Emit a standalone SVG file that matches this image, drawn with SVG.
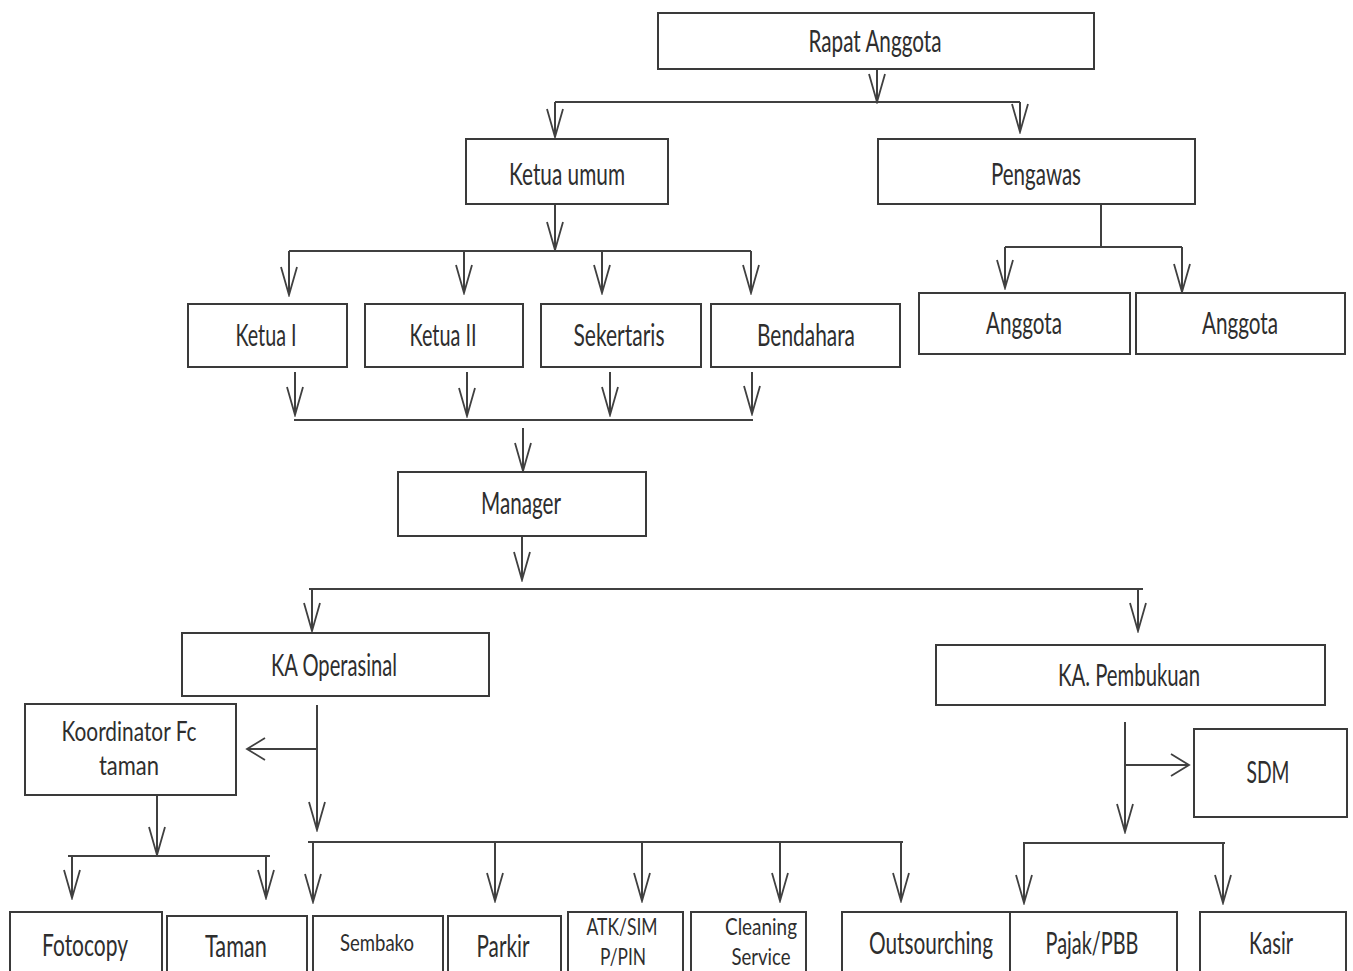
<svg xmlns="http://www.w3.org/2000/svg" width="1353" height="971" viewBox="0 0 1353 971">
<style>
.box{fill:#fff;stroke:#3a3a3a;stroke-width:2}
.t{font-family:Lato,"Open Sans","Liberation Sans",sans-serif;font-size:30px;fill:#2e2e2e;text-anchor:middle}
.s{font-size:23px}
.k{font-size:27px}
.c{fill:none;stroke:#404040;stroke-width:2}
.a{fill:none;stroke:#404040;stroke-width:2;marker-end:url(#arr)}
.h{fill:none;stroke:#404040;stroke-width:2;marker-end:url(#arrh)}
</style>
<defs>
<marker id="arr" markerUnits="userSpaceOnUse" viewBox="0 0 32 20" markerWidth="32" markerHeight="20" refX="30" refY="10" orient="auto">
<path d="M2,2 L30,10 L2,18" fill="none" stroke="#404040" stroke-width="1.8"/>
</marker>
<marker id="arrh" markerUnits="userSpaceOnUse" viewBox="0 0 24 26" markerWidth="24" markerHeight="26" refX="22" refY="13" orient="auto">
<path d="M4,2 L22,13 L4,24" fill="none" stroke="#404040" stroke-width="1.8"/>
</marker>
</defs>
<rect width="1353" height="971" fill="#fff"/>
<g id="connectors">
<path class="a" d="M877,69 V102"/>
<path class="c" d="M555,102 H1020"/>
<path class="a" d="M555,102 V137"/>
<path class="a" d="M1020,102 V132"/>
<path class="a" d="M555,204 V250"/>
<path class="c" d="M289,251 H751"/>
<path class="a" d="M289,251 V295"/>
<path class="a" d="M464,251 V293"/>
<path class="a" d="M602,251 V293"/>
<path class="a" d="M751,251 V293"/>
<path class="c" d="M1101,205 V248"/>
<path class="c" d="M1005,247 H1182"/>
<path class="a" d="M1005,247 V288"/>
<path class="a" d="M1182,247 V292"/>
<path class="a" d="M295,372 V415"/>
<path class="a" d="M467,372 V416"/>
<path class="a" d="M610,372 V415"/>
<path class="a" d="M752,372 V414"/>
<path class="c" d="M294,420 H753"/>
<path class="a" d="M523,428 V471"/>
<path class="a" d="M522,536 V580"/>
<path class="c" d="M309,589 H1143"/>
<path class="a" d="M312,589 V631"/>
<path class="a" d="M1138,589 V631"/>
<path class="a" d="M317,705 V830"/>
<path class="h" d="M317,749 H247"/>
<path class="a" d="M157,795 V855"/>
<path class="c" d="M68,856 H270"/>
<path class="a" d="M72,856 V898"/>
<path class="a" d="M266,856 V898"/>
<path class="c" d="M308,842 H903"/>
<path class="a" d="M313,842 V902"/>
<path class="a" d="M495,842 V901"/>
<path class="a" d="M642,842 V901"/>
<path class="a" d="M780,842 V901"/>
<path class="a" d="M901,842 V901"/>
<path class="a" d="M1125,722 V832"/>
<path class="h" d="M1125,765 H1189"/>
<path class="c" d="M1023,843 H1225"/>
<path class="a" d="M1024,843 V903"/>
<path class="a" d="M1223,843 V903"/>
</g>
<g id="rapat-anggota"><rect class="box" x="658" y="13" width="436" height="56"/><text class="t" x="875" y="52" font-size="28" textLength="133" lengthAdjust="spacingAndGlyphs">Rapat Anggota</text></g>
<g id="ketua-umum"><rect class="box" x="466" y="139" width="202" height="65"/><text class="t" x="567" y="185" textLength="116" lengthAdjust="spacingAndGlyphs">Ketua umum</text></g>
<g id="pengawas"><rect class="box" x="878" y="139" width="317" height="65"/><text class="t" x="1036" y="185" textLength="90" lengthAdjust="spacingAndGlyphs">Pengawas</text></g>
<g id="ketua-1"><rect class="box" x="188" y="304" width="159" height="63"/><text class="t" x="266" y="346" textLength="61" lengthAdjust="spacingAndGlyphs">Ketua I</text></g>
<g id="ketua-2"><rect class="box" x="365" y="304" width="158" height="63"/><text class="t" x="443" y="346" textLength="67" lengthAdjust="spacingAndGlyphs">Ketua II</text></g>
<g id="sekertaris"><rect class="box" x="541" y="304" width="160" height="63"/><text class="t" x="619" y="346" textLength="91" lengthAdjust="spacingAndGlyphs">Sekertaris</text></g>
<g id="bendahara"><rect class="box" x="711" y="304" width="189" height="63"/><text class="t" x="806" y="346" textLength="98" lengthAdjust="spacingAndGlyphs">Bendahara</text></g>
<g id="anggota-1"><rect class="box" x="919" y="293" width="211" height="61"/><text class="t" x="1024" y="334" textLength="76" lengthAdjust="spacingAndGlyphs">Anggota</text></g>
<g id="anggota-2"><rect class="box" x="1136" y="293" width="209" height="61"/><text class="t" x="1240" y="334" textLength="76" lengthAdjust="spacingAndGlyphs">Anggota</text></g>
<g id="manager"><rect class="box" x="398" y="472" width="248" height="64"/><text class="t" x="521" y="514" textLength="80" lengthAdjust="spacingAndGlyphs">Manager</text></g>
<g id="ka-operasinal"><rect class="box" x="182" y="633" width="307" height="63"/><text class="t" x="334" y="676" textLength="126" lengthAdjust="spacingAndGlyphs">KA Operasinal</text></g>
<g id="ka-pembukuan"><rect class="box" x="936" y="645" width="389" height="60"/><text class="t" x="1129" y="686" textLength="142" lengthAdjust="spacingAndGlyphs">KA. Pembukuan</text></g>
<g id="koordinator"><rect class="box" x="25" y="704" width="211" height="91"/><text class="t k" x="129" y="741" textLength="135" lengthAdjust="spacingAndGlyphs">Koordinator Fc</text><text class="t k" x="129" y="775" textLength="60" lengthAdjust="spacingAndGlyphs">taman</text></g>
<g id="sdm"><rect class="box" x="1194" y="729" width="153" height="88"/><text class="t" x="1268" y="783" textLength="43" lengthAdjust="spacingAndGlyphs">SDM</text></g>
<g id="fotocopy"><rect class="box" x="10" y="912" width="152" height="70"/><text class="t" x="85" y="956" textLength="86" lengthAdjust="spacingAndGlyphs">Fotocopy</text></g>
<g id="taman"><rect class="box" x="167" y="916" width="140" height="66"/><text class="t" x="236" y="957" textLength="62" lengthAdjust="spacingAndGlyphs">Taman</text></g>
<g id="sembako"><rect class="box" x="313" y="916" width="130" height="66"/><text class="t s" x="377" y="951" textLength="74" lengthAdjust="spacingAndGlyphs">Sembako</text></g>
<g id="parkir"><rect class="box" x="448" y="916" width="113" height="66"/><text class="t" x="503" y="957" textLength="53" lengthAdjust="spacingAndGlyphs">Parkir</text></g>
<g id="atk"><rect class="box" x="568" y="912" width="115" height="70"/><text class="t s" x="622" y="935" textLength="71" lengthAdjust="spacingAndGlyphs">ATK/SIM</text><text class="t s" x="623" y="965" textLength="46" lengthAdjust="spacingAndGlyphs">P/PIN</text></g>
<g id="cleaning"><rect class="box" x="691" y="912" width="115" height="70"/><text class="t s" x="761" y="935" textLength="72" lengthAdjust="spacingAndGlyphs">Cleaning</text><text class="t s" x="761" y="965" textLength="59" lengthAdjust="spacingAndGlyphs">Service</text></g>
<g id="outsourching"><rect class="box" x="842" y="912" width="168" height="70"/><text class="t" x="931" y="954" textLength="124" lengthAdjust="spacingAndGlyphs">Outsourching</text></g>
<g id="pajak"><rect class="box" x="1010" y="912" width="167" height="70"/><text class="t" x="1092" y="954" textLength="93" lengthAdjust="spacingAndGlyphs">Pajak/PBB</text></g>
<g id="kasir"><rect class="box" x="1200" y="912" width="146" height="70"/><text class="t" x="1271" y="954" textLength="44" lengthAdjust="spacingAndGlyphs">Kasir</text></g>
</svg>
